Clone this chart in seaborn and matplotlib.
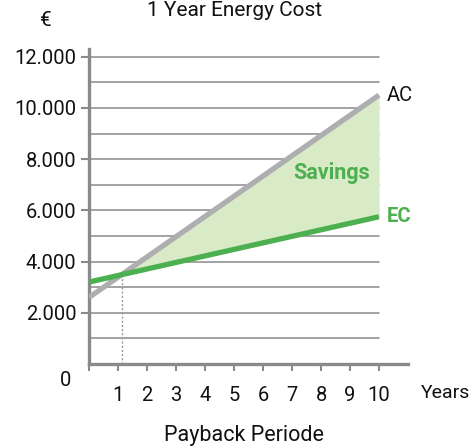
import numpy as np
import pandas as pd
import matplotlib
matplotlib.use("Agg")
import matplotlib.pyplot as plt
import seaborn as sns

# Cost lines (EUR per year) over the payback horizon
years = [0, 10]
ac_cost = [2600, 10500]
ec_cost = [3200, 5750]
x_ticks = [1, 2, 3, 4, 5, 6, 7, 8, 9, 10]
y_ticks = [2000, 4000, 6000, 8000, 10000, 12000]
y_tick_labels = ["2.000", "4.000", "6.000", "8.000", "10.000", "12.000"]

GRAY_LINE = "#aeaeb0"
GREEN = "#4caf50"
FILL = "#d9ebc6"
AXIS = "#8a8a8a"
TEXT = "#111111"

sns.set_theme(style="white")
plt.rcParams["font.family"] = ["Roboto", "DejaVu Sans"]

df = pd.DataFrame({"Year": years * 2,
                   "Cost": ac_cost + ec_cost,
                   "Series": ["AC"] * len(years) + ["EC"] * len(years)})

fig = plt.figure(figsize=(4.73, 4.46), dpi=100)
ax = fig.add_axes([89 / 473, (446 - 364) / 446, 319 / 473, 315 / 446])

# horizontal grid every 1.000 up to year 10
for v in range(1000, 12001, 1000):
    ax.plot([0, 10], [v, v], color=AXIS, lw=1.1, zorder=1)

# break-even point
ac_slope = (ac_cost[1] - ac_cost[0]) / (years[1] - years[0])
ec_slope = (ec_cost[1] - ec_cost[0]) / (years[1] - years[0])
x_even = (ec_cost[0] - ac_cost[0]) / (ac_slope - ec_slope)
y_even = ac_cost[0] + ac_slope * x_even

xs = np.linspace(x_even, years[1], 50)
ax.fill_between(xs, ec_cost[0] + ec_slope * xs, ac_cost[0] + ac_slope * xs,
                color=FILL, lw=0, zorder=2)
ax.plot([x_even, x_even], [0, y_even], color="#9a9a9a", lw=1, ls=(0, (1.5, 1.5)), zorder=2)

sns.lineplot(data=df, x="Year", y="Cost", hue="Series",
             palette={"AC": GRAY_LINE, "EC": GREEN}, lw=3.8,
             legend=False, ax=ax, zorder=3)
for line in ax.lines[-2:]:
    line.set_solid_capstyle("butt")

ax.set_xlim(0, 11)
ax.set_ylim(0, 12300)
ax.set_xticks([0] + x_ticks)
ax.set_xticklabels([""] + [str(t) for t in x_ticks], fontsize=14.5, color=TEXT)
ax.set_yticks(y_ticks)
ax.set_yticklabels(y_tick_labels, fontsize=14.5, color=TEXT)
ax.tick_params(axis="x", direction="out", length=5, width=1.5, color=AXIS, pad=11, bottom=True)
ax.tick_params(axis="y", direction="out", length=6, width=1.5, color=AXIS, pad=3, left=True)
ax.set_xlabel("")
ax.set_ylabel("")

for s in ["top", "right"]:
    ax.spines[s].set_visible(False)
for s in ["left", "bottom"]:
    ax.spines[s].set_color(AXIS)
    ax.spines[s].set_linewidth(2.4)

ax.annotate("0", xy=(0, 0), xycoords="data", xytext=(-13, -12), textcoords="offset points",
            ha="right", va="center", fontsize=14.5, color=TEXT)

ax.text(10.25, ac_cost[1], "AC", ha="left", va="center", fontsize=14.5, color=TEXT)
ax.text(10.25, ec_cost[1], "EC", ha="left", va="center", fontsize=14.5,
        color=GREEN, fontweight="bold")
ax.text(8.35, 7450, "Savings", ha="center", va="center", fontsize=15.5,
        color=GREEN, fontweight="bold")

fig.text(235 / 473, 1 - 10 / 446, "1 Year Energy Cost", ha="center", va="center",
         fontsize=15, color=TEXT)
fig.text(45 / 473, 1 - 21 / 446, "€", ha="center", va="center", fontsize=15, color=TEXT)
fig.text(470 / 473, 1 - 393 / 446, "Years", ha="right", va="center", fontsize=14, color=TEXT)
fig.text(244 / 473, 1 - 436 / 446, "Payback Periode", ha="center", va="center",
         fontsize=15.5, color=TEXT)

fig.savefig("out.png", dpi=100)
